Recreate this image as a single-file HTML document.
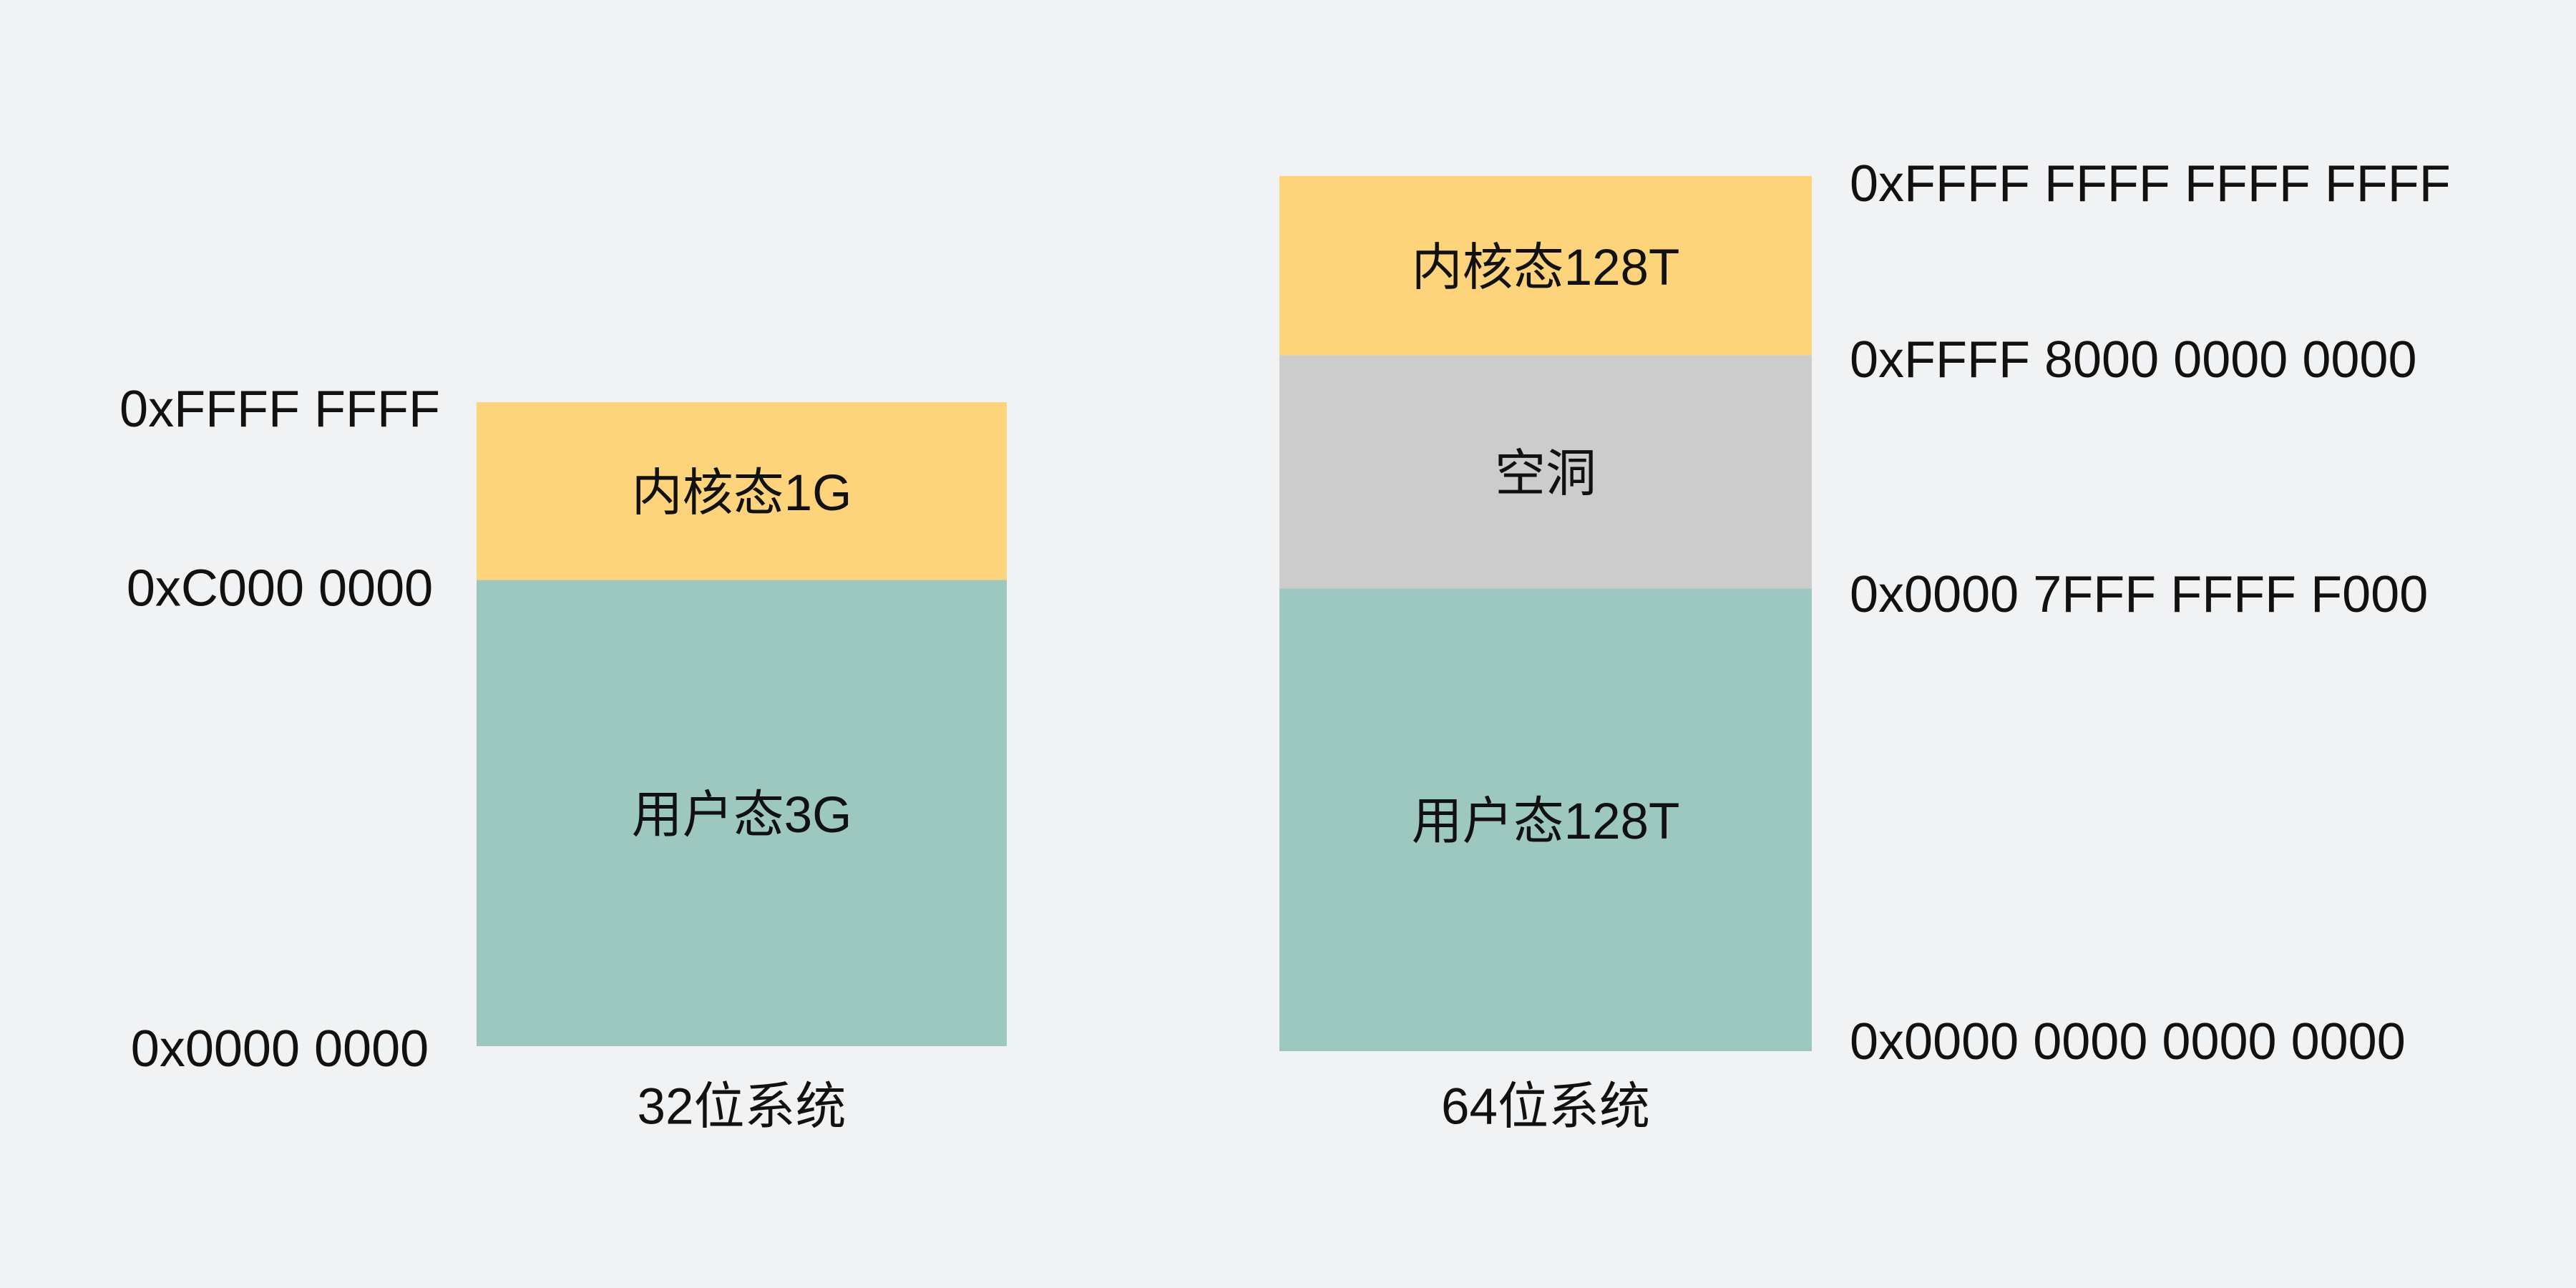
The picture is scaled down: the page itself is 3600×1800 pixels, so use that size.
<!DOCTYPE html>
<html><head><meta charset="utf-8"><style>
html,body{margin:0;padding:0;background:#f1f2f4;}
svg{display:block;}
text{font-family:"Liberation Sans","Noto Sans CJK SC",sans-serif;fill:#111;}
</style></head><body>
<svg id="chart" width="3600" height="1800" viewBox="0 0 3600 1800" xmlns="http://www.w3.org/2000/svg">
<rect x="0" y="0" width="3600" height="1800" fill="#f1f2f4"/>
</svg>
<script>
// data
const systems = ["32位系统", "64位系统"];
const segLabels32 = ["内核态1G", "用户态3G"];
const segBounds32 = [0, 1, 3.62];
const segLabels64 = ["内核态128T", "空洞", "用户态128T"];
const segBounds64 = [0, 1, 2.3, 4.88];
const addr32 = ["0xFFFF FFFF", "0xC000 0000", "0x0000 0000"];
const addr64 = ["0xFFFF FFFF FFFF FFFF", "0xFFFF 8000 0000 0000", "0x0000 7FFF FFFF F000", "0x0000 0000 0000 0000"];

const svg = document.getElementById('chart');
const NS = 'http://www.w3.org/2000/svg';
const colors = {"内": "#fdd37b", "用": "#9cc8c0", "空": "#cccccc"};
function mk(tag, attrs, txt){const e=document.createElementNS(NS,tag);for(const k in attrs)e.setAttribute(k,attrs[k]);if(txt!==undefined)e.textContent=txt;svg.appendChild(e);return e;}

function drawBlock(x0, x1, top, unit, labels, bounds, addrs, addrX, anchor, addrYs, sys, sysIdx){
  const y = v => top + v*unit;
  labels.forEach((lab,i)=>{
    const r = mk('rect',{x:x0,y:y(bounds[i]),width:x1-x0,height:y(bounds[i+1])-y(bounds[i]),fill:colors[lab[0]]});
    
    
    const t = mk('text',{x:(x0+x1)/2,y:(y(bounds[i])+y(bounds[i+1]))/2+3,'font-size':71,'text-anchor':'middle','dominant-baseline':'central'},lab);
    
    
  });
  addrs.forEach((a,i)=>{
    const t = mk('text',{x:addrX,y:addrYs[i],'font-size':72,'text-anchor':anchor,'dominant-baseline':'central'},a);
    
    
  });
  const s = mk('text',{x:(x0+x1)/2,y:1547,'font-size':71,'text-anchor':'middle','dominant-baseline':'central'},sys);
  
  
}
const unit32 = (1462-562)/segBounds32[segBounds32.length-1];
drawBlock(666,1407,562,unit32,segLabels32,segBounds32,addr32,391,'middle',
  segBounds32.map(b=>562+b*unit32+ (b===0?10:(b===segBounds32[segBounds32.length-1]?4:12))), systems[0],0);
const unit64 = (1469-246)/segBounds64[segBounds64.length-1];
drawBlock(1788,2532,246,unit64,segLabels64,segBounds64,addr64,2585,'start',[257,503,831,1456],systems[1],1);
</script>
</body></html>
